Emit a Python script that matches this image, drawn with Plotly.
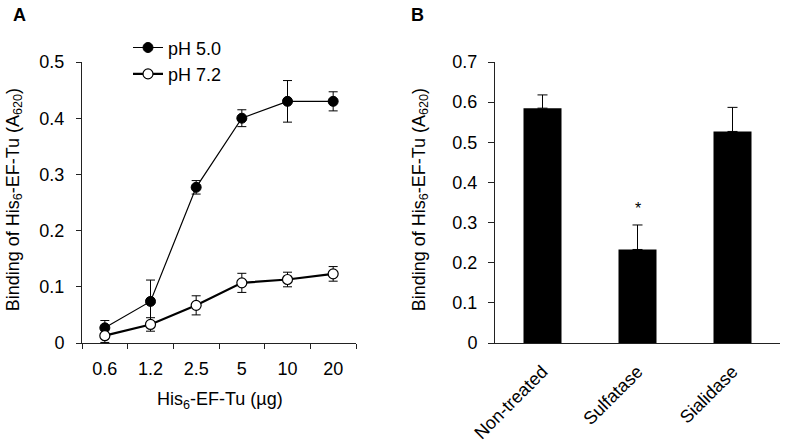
import plotly.graph_objects as go

# Panel A data
doses = ["0.6", "1.2", "2.5", "5", "10", "20"]
ph50 = [0.027, 0.074, 0.277, 0.400, 0.430, 0.430]
ph50_err = [0.013, 0.038, 0.012, 0.015, 0.037, 0.017]
ph72 = [0.013, 0.033, 0.067, 0.107, 0.113, 0.123]
ph72_err = [0.012, 0.012, 0.017, 0.017, 0.013, 0.013]

# Panel B data
treatments = ["Non-treated", "Sulfatase", "Sialidase"]
binding = [0.585, 0.233, 0.527]
binding_err = [0.033, 0.061, 0.060]

FONT = "Arial"
FS = 18
W, H = 786, 447
L, R, T, B = 82, 780, 61.7, 342.7  # plot area pixel bounds


def px_x(p):
    return (p - L) / (R - L)


def px_y(p):
    return (B - p) / (B - T)


fig = go.Figure()

fig.add_trace(go.Scatter(
    x=doses, y=ph50, name="pH 5.0", mode="lines+markers",
    line=dict(color="black", width=1.2),
    marker=dict(symbol="circle", size=10, color="black", line=dict(color="black", width=1)),
    error_y=dict(type="data", array=ph50_err, visible=True, color="black", thickness=1, width=4.5),
    xaxis="x", yaxis="y",
))
fig.add_trace(go.Scatter(
    x=doses, y=ph72, name="pH 7.2", mode="lines+markers",
    line=dict(color="black", width=2.2),
    marker=dict(symbol="circle", size=10, color="white", line=dict(color="black", width=1.2)),
    error_y=dict(type="data", array=ph72_err, visible=True, color="black", thickness=1, width=4.5),
    xaxis="x", yaxis="y",
))

fig.add_trace(go.Bar(
    x=treatments, y=binding, width=0.4, showlegend=False,
    marker=dict(color="black", line=dict(width=0)),
    error_y=dict(type="data", array=binding_err, arrayminus=[0, 0, 0], symmetric=False,
                 visible=True, color="black", thickness=1, width=5),
    xaxis="x2", yaxis="y2",
))

tickfont = dict(family=FONT, size=FS, color="black")
common = dict(showline=True, linecolor="#222", showgrid=False, zeroline=False,
              tickcolor="#222", tickfont=tickfont, automargin=False)

fig.update_layout(
    width=W, height=H,
    margin=dict(l=L, r=W - R, t=T, b=H - B, autoexpand=False),
    paper_bgcolor="white", plot_bgcolor="white",
    font=dict(family=FONT, size=FS, color="black"),
    xaxis=dict(domain=[0, px_x(356)], anchor="y", type="category",
               range=[-0.5, 5.5], tickson="boundaries", ticks="outside", ticklen=5,
               ticklabelstandoff=9, **common),
    yaxis=dict(domain=[0, 1], anchor="x", range=[0, 0.5], dtick=0.1, ticks="outside", ticklen=5,
               tickformat="~g", ticklabelstandoff=8, **common),
    xaxis2=dict(domain=[px_x(495), 1], anchor="y2", type="category",
                range=[-0.5, 2.5], ticks="", tickangle=-45, ticklabelstandoff=10, **common),
    yaxis2=dict(domain=[0, 1], anchor="x2", range=[0, 0.7], dtick=0.1, ticks="outside", ticklen=6,
                tickformat="~g", ticklabelstandoff=7, **common),
    showlegend=True,
    legend=dict(x=px_x(128), y=px_y(29), xanchor="left", yanchor="top",
                bgcolor="rgba(0,0,0,0)", font=dict(family=FONT, size=FS, color="black"),
                itemwidth=30, tracegroupgap=0),
)

annotations = [
    dict(text="<b>A</b>", x=px_x(11), y=px_y(15), xanchor="left", yanchor="middle"),
    dict(text="<b>B</b>", x=px_x(409), y=px_y(15), xanchor="left", yanchor="middle"),
    dict(text="Binding of His<sub>6</sub>-EF-Tu (A<sub>620</sub>)", x=px_x(14), y=px_y(200),
         textangle=-90, xanchor="center", yanchor="middle"),
    dict(text="Binding of His<sub>6</sub>-EF-Tu (A<sub>620</sub>)", x=px_x(420), y=px_y(200),
         textangle=-90, xanchor="center", yanchor="middle"),
    dict(text="His<sub>6</sub>-EF-Tu (µg)", x=px_x(220), y=px_y(400),
         xanchor="center", yanchor="middle"),
]
for a in annotations:
    a.update(xref="paper", yref="paper", showarrow=False, font=dict(family=FONT, size=FS, color="black"))
    fig.add_annotation(**a)

fig.add_annotation(text="*", x="Sulfatase", y=binding[1] + binding_err[1], xref="x2", yref="y2",
                   yanchor="bottom", yshift=6, showarrow=False,
                   font=dict(family=FONT, size=16, color="black"))

fig.write_html("out.html", config={"displayModeBar": False},
               post_script="document.body.style.margin='0';document.body.style.overflow='hidden';")
